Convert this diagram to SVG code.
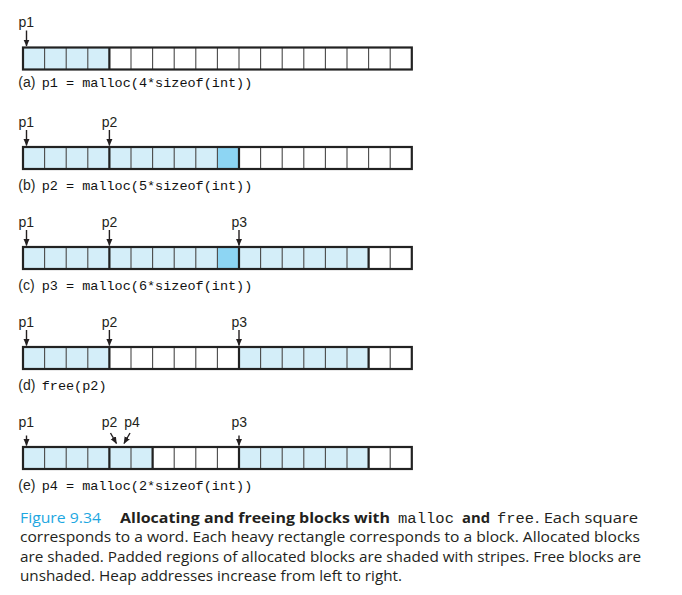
<svg xmlns="http://www.w3.org/2000/svg" xmlns:xlink="http://www.w3.org/1999/xlink" width="682" height="595" viewBox="0 0 682 595">
<style>
.bg{fill:#ffffff}
.al{fill:#d4eef9}
.pad{fill:#8dd5f3}
.thin{stroke:#4a4a4a;stroke-width:1.1;fill:none}
.heavy{stroke:#222;stroke-width:2.2;fill:none}
.ptr{font-family:"Liberation Sans",Arial,sans-serif;font-size:14px;fill:#231f20}
.lab{font-family:"Liberation Sans",Arial,sans-serif;font-size:14px;fill:#231f20}
.code{font-family:"Liberation Mono","Courier New",monospace;font-size:13.5px;fill:#111}
.arr{stroke:#231f20;stroke-width:1.4;fill:none;marker-end:url(#ah)}
.cap{font-family:"Open Sans","Noto Sans",sans-serif;font-size:15px;fill:#231f20}
.capb{font-family:"Open Sans","Noto Sans",sans-serif;font-weight:bold;font-size:14px;fill:#231f20}
.capm{font-family:"Liberation Mono","Courier New",monospace;font-size:14.5px;fill:#231f20}
.fig{fill:#1ea7e1}
</style>
<defs>
<marker id="ah" markerWidth="7" markerHeight="7" refX="6.5" refY="3.5" orient="auto" markerUnits="userSpaceOnUse">
<path d="M0,0.5 L7,3.5 L0,6.5 Z" fill="#231f20"/>
</marker>
<path id="cells" class="thin" d="M44.6 0v22M66.2 0v22M87.8 0v22M109.4 0v22M131 0v22M152.6 0v22M174.2 0v22M195.8 0v22M217.4 0v22M239 0v22M260.6 0v22M282.2 0v22M303.8 0v22M325.4 0v22M347 0v22M368.6 0v22M390.2 0v22"/>
</defs>
<rect class="bg" x="0" y="0" width="682" height="595"/>

<g id="row-a" transform="translate(0,47.5)">
<rect class="al" x="23" y="0" width="86.4" height="22"/>
<use xlink:href="#cells"/>
<path class="heavy" d="M109.4 0v22"/>
<rect class="heavy" x="23" y="0" width="388.8" height="22"/>
</g>
<g id="row-b" transform="translate(0,147)">
<rect class="al" x="23" y="0" width="194.4" height="22"/>
<rect class="pad" x="217.4" y="0" width="21.6" height="22"/>
<use xlink:href="#cells"/>
<path class="heavy" d="M109.4 0v22M239 0v22"/>
<rect class="heavy" x="23" y="0" width="388.8" height="22"/>
</g>
<g id="row-c" transform="translate(0,247)">
<rect class="al" x="23" y="0" width="194.4" height="22"/>
<rect class="pad" x="217.4" y="0" width="21.6" height="22"/>
<rect class="al" x="239" y="0" width="129.6" height="22"/>
<use xlink:href="#cells"/>
<path class="heavy" d="M109.4 0v22M239 0v22M368.6 0v22"/>
<rect class="heavy" x="23" y="0" width="388.8" height="22"/>
</g>
<g id="row-d" transform="translate(0,347)">
<rect class="al" x="23" y="0" width="86.4" height="22"/>
<rect class="al" x="239" y="0" width="129.6" height="22"/>
<use xlink:href="#cells"/>
<path class="heavy" d="M109.4 0v22M239 0v22M368.6 0v22"/>
<rect class="heavy" x="23" y="0" width="388.8" height="22"/>
</g>
<g id="row-e" transform="translate(0,447)">
<rect class="al" x="23" y="0" width="129.6" height="22"/>
<rect class="al" x="239" y="0" width="129.6" height="22"/>
<use xlink:href="#cells"/>
<path class="heavy" d="M109.4 0v22M152.6 0v22M239 0v22M368.6 0v22"/>
<rect class="heavy" x="23" y="0" width="388.8" height="22"/>
</g>

<g id="pointer-labels">
<text class="ptr" x="18.5" y="27">p1</text>
<text class="ptr" x="18.5" y="126.5">p1</text>
<text class="ptr" x="101.7" y="126.5">p2</text>
<text class="ptr" x="18.5" y="226.5">p1</text>
<text class="ptr" x="101.7" y="226.5">p2</text>
<text class="ptr" x="231.5" y="226.5">p3</text>
<text class="ptr" x="18.5" y="326.5">p1</text>
<text class="ptr" x="101.7" y="326.5">p2</text>
<text class="ptr" x="231.5" y="326.5">p3</text>
<text class="ptr" x="18.5" y="426.5">p1</text>
<text class="ptr" x="101.7" y="426.5">p2</text>
<text class="ptr" x="124.3" y="426.5">p4</text>
<text class="ptr" x="231.5" y="426.5">p3</text>
</g>

<g id="connectors">
<path class="arr" d="M26.5 30.5V46"/>
<path class="arr" d="M26.5 130V145.5"/>
<path class="arr" d="M109.4 130V145.5"/>
<path class="arr" d="M26.5 230V245.5"/>
<path class="arr" d="M109.4 230V245.5"/>
<path class="arr" d="M239 230V245.5"/>
<path class="arr" d="M26.5 330V345.5"/>
<path class="arr" d="M109.4 330V345.5"/>
<path class="arr" d="M239 330V345.5"/>
<path class="arr" d="M26.5 435.5V445.5"/>
<path class="arr" d="M110.5 433L116.5 443.5"/>
<path class="arr" d="M130 433L124 443.5"/>
<path class="arr" d="M239 435.5V445.5"/>
</g>

<g id="row-labels">
<text x="18.3" y="87"><tspan class="lab">(a)</tspan><tspan class="code" x="41.7">p1 = malloc(4*sizeof(int))</tspan></text>
<text x="18.3" y="189.5"><tspan class="lab">(b)</tspan><tspan class="code" x="41.7">p2 = malloc(5*sizeof(int))</tspan></text>
<text x="18.3" y="289.5"><tspan class="lab">(c)</tspan><tspan class="code" x="41.7">p3 = malloc(6*sizeof(int))</tspan></text>
<text x="18.3" y="389.5"><tspan class="lab">(d)</tspan><tspan class="code" x="41.7">free(p2)</tspan></text>
<text x="18.3" y="490"><tspan class="lab">(e)</tspan><tspan class="code" x="41.7">p4 = malloc(2*sizeof(int))</tspan></text>
</g>

<g id="caption">
<text class="cap fig" x="20" y="523.3" textLength="81" lengthAdjust="spacingAndGlyphs">Figure 9.34</text>
<text class="capb" x="120" y="523.3" textLength="270" lengthAdjust="spacingAndGlyphs">Allocating and freeing blocks with</text>
<text class="capm" x="398" y="523.3" textLength="56" lengthAdjust="spacingAndGlyphs">malloc</text>
<text class="capb" x="462" y="523.3" textLength="28" lengthAdjust="spacingAndGlyphs">and</text>
<text class="capm" x="497" y="523.3" textLength="37" lengthAdjust="spacingAndGlyphs">free</text>
<text class="cap" x="535" y="523.3" textLength="103" lengthAdjust="spacingAndGlyphs">. Each square</text>
<text class="cap" x="20" y="542.3" textLength="620" lengthAdjust="spacingAndGlyphs">corresponds to a word. Each heavy rectangle corresponds to a block. Allocated blocks</text>
<text class="cap" x="20" y="561.7" textLength="621" lengthAdjust="spacingAndGlyphs">are shaded. Padded regions of allocated blocks are shaded with stripes. Free blocks are</text>
<text class="cap" x="20" y="581" textLength="382" lengthAdjust="spacingAndGlyphs">unshaded. Heap addresses increase from left to right.</text>
</g>
</svg>
